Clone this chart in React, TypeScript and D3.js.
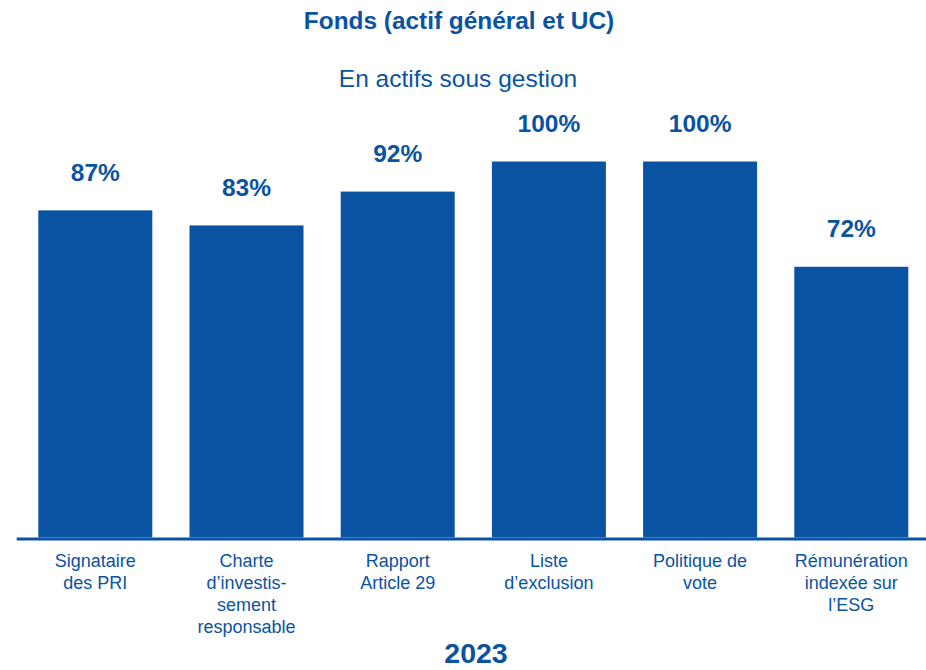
import React from "react";
import * as d3 from "d3";

const title = "Fonds (actif général et UC)";
const subtitle = "En actifs sous gestion";
const yearLabel = "2023";
const categories = [
  ["Signataire", "des PRI"],
  ["Charte", "d\u2019investis-", "sement", "responsable"],
  ["Rapport", "Article 29"],
  ["Liste", "d\u2019exclusion"],
  ["Politique de", "vote"],
  ["Rémunération", "indexée sur", "l\u2019ESG"],
];
const values = [87, 83, 92, 100, 100, 72];

const W = 926;
const H = 670;
const COLOR = "#0a53a3";
const FONT = "'Liberation Sans', Arial, Helvetica, sans-serif";

export default function App() {
  const keys = categories.map((c) => c.join(" "));
  const x = d3
    .scaleBand<string>()
    .domain(keys)
    .range([19.7, 926.9])
    .paddingInner(0.246)
    .paddingOuter(0.123);
  const y = d3.scaleLinear().domain([0, 100]).range([537.5, 161.5]);

  return (
    <svg
      width={W}
      height={H}
      style={{ position: "absolute", left: 0, top: 0, display: "block", background: "#fff" }}
      fontFamily={FONT}
    >
      <text x={459} y={28.5} textAnchor="middle" fontSize={24.4} fontWeight="bold" fill={COLOR}>
        {title}
      </text>
      <text x={458} y={87} textAnchor="middle" fontSize={24.5} fill={COLOR}>
        {subtitle}
      </text>
      {values.map((v, i) => {
        const k = keys[i];
        const bx = x(k)!;
        return (
          <g key={k}>
            <rect x={bx} y={y(v)} width={x.bandwidth()} height={y(0) - y(v)} fill={COLOR} />
            <text
              x={bx + x.bandwidth() / 2}
              y={y(v) - 29.4}
              textAnchor="middle"
              fontSize={24.5}
              fontWeight="bold"
              fill={COLOR}
            >
              {`${v}%`}
            </text>
            {categories[i].map((line, j) => (
              <text
                key={j}
                x={bx + x.bandwidth() / 2}
                y={566.7 + j * 22}
                textAnchor="middle"
                fontSize={18}
                fill={COLOR}
              >
                {line}
              </text>
            ))}
          </g>
        );
      })}
      <line x1={16.7} x2={W} y1={539} y2={539} stroke={COLOR} strokeWidth={3} />
      <text x={476} y={663} textAnchor="middle" fontSize={28.5} fontWeight="bold" fill={COLOR}>
        {yearLabel}
      </text>
    </svg>
  );
}
